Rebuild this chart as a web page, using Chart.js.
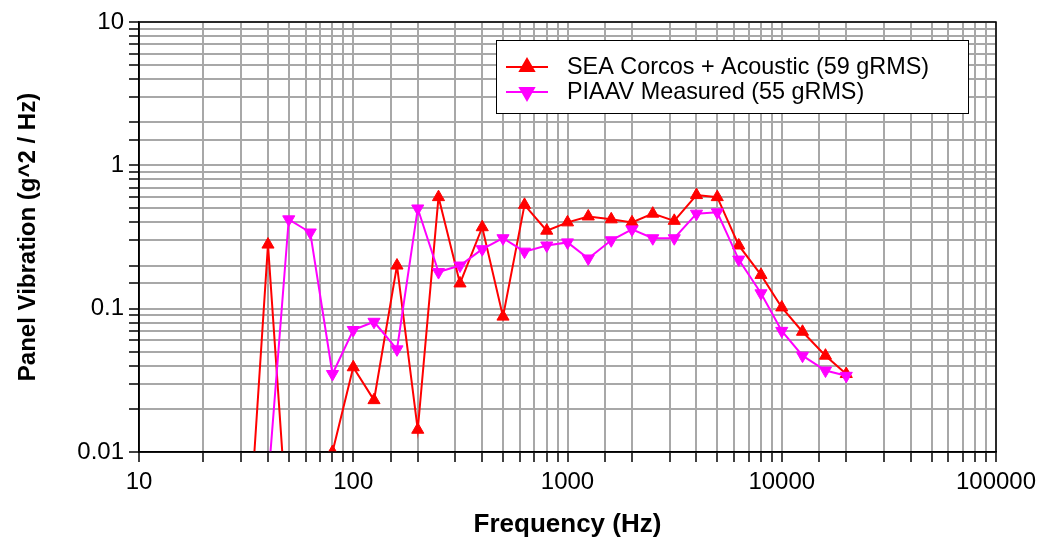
<!DOCTYPE html>
<html>
<head>
<meta charset="utf-8">
<script src="https://cdn.jsdelivr.net/npm/chart.js@4.4.1/dist/chart.umd.min.js"></script>
<style>
  html, body { margin: 0; padding: 0; background: #fff; }
  #chart { display: block; }
</style>
</head>
<body>
<canvas id="chart" width="1039" height="541"></canvas>
<script>
// 1/3 octave bands (Hz)
const frequencies = [31.5, 40, 50, 63, 80, 100, 125, 160, 200, 250, 315, 400, 500, 630, 800, 1000, 1250, 1600, 2000, 2500, 3150, 4000, 5000, 6300, 8000, 10000, 12500, 16000, 20000];
const seaValues = [0.0012, 0.28, 0.0022, 0.003, 0.01, 0.039, 0.023, 0.2, 0.0143, 0.6, 0.15, 0.37, 0.088, 0.53, 0.35, 0.40, 0.44, 0.42, 0.40, 0.46, 0.41, 0.62, 0.60, 0.276, 0.172, 0.102, 0.069, 0.047, 0.035];
const piaavValues = [null, 0.006, 0.42, 0.34, 0.035, 0.071, 0.081, 0.052, 0.5, 0.18, 0.2, 0.26, 0.31, 0.25, 0.276, 0.29, 0.224, 0.3, 0.357, 0.31, 0.31, 0.46, 0.47, 0.22, 0.128, 0.07, 0.047, 0.037, 0.034];
const seriesLabels = ['SEA Corcos + Acoustic (59 gRMS)', 'PIAAV Measured (55 gRMS)'];
const xTitle = 'Frequency (Hz)';
const yTitle = 'Panel Vibration (g^2 / Hz)';

const FONT = "'Liberation Sans', Arial, sans-serif";

function toPoints(values) {
    return frequencies.map((f, i) => ({x: f, y: values[i]})).filter(p => p.y !== null);
}

// only label the decades
function decadeLabel(value) {
    const p = Math.round(Math.log10(value));
    if (Math.abs(Math.log10(value) - p) > 1e-6) return '';
    return p >= 0 ? String(Math.pow(10, p)) : Math.pow(10, p).toFixed(-p);
}

const frame = {
    id: 'frame',
    afterDraw(chart) {
        const {ctx, chartArea: a} = chart;
        ctx.save();
        ctx.strokeStyle = '#000';
        ctx.lineWidth = 1.5;
        ctx.strokeRect(a.left, a.top, a.right - a.left, a.bottom - a.top);

        // legend box
        const w = 472, h = 73;
        const x = a.right - 28 - w, y = a.top + 18;
        ctx.fillStyle = '#fff';
        ctx.fillRect(x, y, w, h);
        ctx.lineWidth = 1;
        ctx.strokeRect(x + 0.5, y + 0.5, w, h);

        chart.data.datasets.forEach((ds, i) => {
            const cy = y + 27 + i * 25;
            ctx.strokeStyle = ds.borderColor;
            ctx.lineWidth = 2;
            ctx.beginPath();
            ctx.moveTo(x + 10, cy);
            ctx.lineTo(x + 52, cy);
            ctx.stroke();
            Chart.helpers.drawPoint(ctx, {
                pointStyle: 'triangle',
                radius: 8,
                rotation: ds.pointRotation,
                borderWidth: 1
            }, x + 31, cy);
            ctx.fillStyle = ds.backgroundColor;
            ctx.fill();
            ctx.fillStyle = '#000';
            ctx.font = '23.4px ' + FONT;
            ctx.textBaseline = 'middle';
            ctx.fillText(ds.label, x + 71, cy + 1);
        });
        ctx.restore();
    }
};

const ctx = document.getElementById('chart');

const chart = new Chart(ctx, {
    type: 'line',
    data: {
        datasets: [
            {
                label: seriesLabels[0],
                data: toPoints(seaValues),
                borderColor: '#ff0000',
                backgroundColor: '#ff0000',
                borderWidth: 2,
                pointStyle: 'triangle',
                pointRadius: 7,
                pointRotation: 0,
                pointBorderWidth: 1,
                tension: 0,
                order: 1
            },
            {
                label: seriesLabels[1],
                data: toPoints(piaavValues),
                borderColor: '#ff00ff',
                backgroundColor: '#ff00ff',
                borderWidth: 2,
                pointStyle: 'triangle',
                pointRadius: 7,
                pointRotation: 180,
                pointBorderWidth: 1,
                tension: 0,
                order: 0
            }
        ]
    },
    options: {
        responsive: false,
        animation: false,
        devicePixelRatio: 1,
        layout: {padding: {top: 22, right: 43, left: 0, bottom: 0}},
        plugins: {
            legend: {display: false},
            tooltip: {enabled: false}
        },
        scales: {
            x: {
                type: 'logarithmic',
                min: 10,
                max: 100000,
                afterFit(scale) {
                    scale.height = 89;
                    scale.paddingRight = 0;
                    scale.paddingLeft = 0;
                },
                grid: {color: '#a8a8a8', lineWidth: 2, tickColor: '#000', tickLength: 10, tickWidth: 1.5},
                border: {display: true, color: '#000', width: 1.5},
                ticks: {
                    autoSkip: false,
                    maxRotation: 0,
                    padding: 6,
                    color: '#000',
                    font: {family: FONT, size: 24},
                    callback: decadeLabel
                },
                title: {
                    display: true,
                    text: xTitle,
                    color: '#000',
                    padding: {top: 0, bottom: 1},
                    font: {family: FONT, size: 26, weight: 'bold'}
                }
            },
            y: {
                type: 'logarithmic',
                min: 0.01,
                max: 10,
                afterFit(scale) { scale.width = 139; },
                grid: {color: '#a8a8a8', lineWidth: 2, tickColor: '#000', tickLength: 10, tickWidth: 1.5},
                border: {display: true, color: '#000', width: 1.5},
                ticks: {
                    autoSkip: false,
                    padding: 5,
                    color: '#000',
                    font: {family: FONT, size: 24},
                    callback: decadeLabel
                },
                title: {
                    display: true,
                    text: yTitle,
                    color: '#000',
                    padding: {top: 14, bottom: 0},
                    font: {family: FONT, size: 24, weight: 'bold'}
                }
            }
        }
    },
    plugins: [frame]
});
</script>
</body>
</html>
